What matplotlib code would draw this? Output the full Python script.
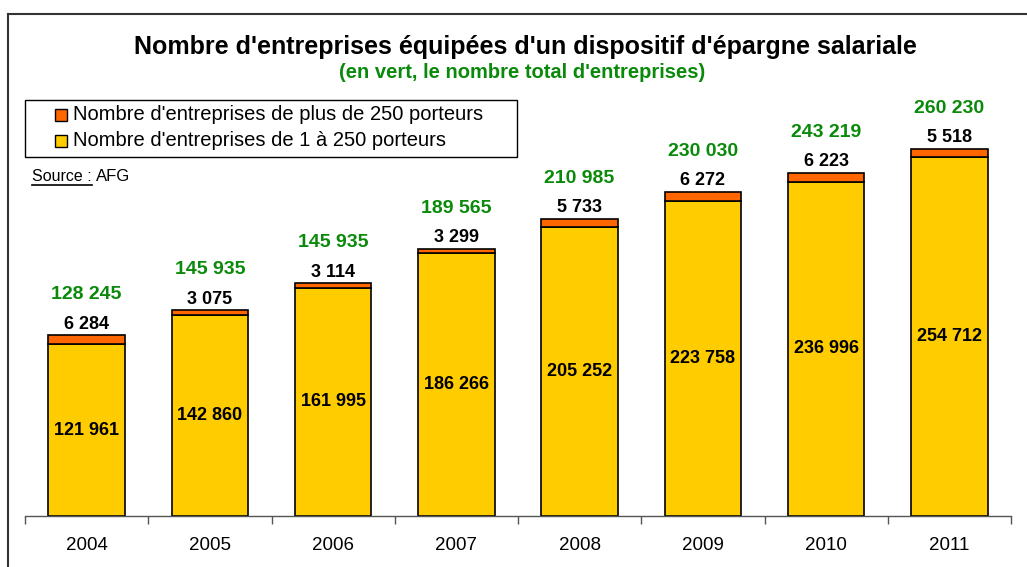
import matplotlib
matplotlib.use("Agg")
import matplotlib.pyplot as plt
from matplotlib.lines import Line2D
from matplotlib.patches import Rectangle
import numpy as np

years = ["2004", "2005", "2006", "2007", "2008", "2009", "2010", "2011"]
small = [121961, 142860, 161995, 186266, 205252, 223758, 236996, 254712]
large = [6284, 3075, 3114, 3299, 5733, 6272, 6223, 5518]
totals = ["128 245", "145 935", "145 935", "189 565", "210 985", "230 030", "243 219", "260 230"]
legend_labels = ["Nombre d'entreprises de plus de 250 porteurs",
                 "Nombre d'entreprises de 1 à 250 porteurs"]

YELLOW = "#FFCC00"
ORANGE = "#FF6600"
GREEN = "#0A8A0A"


def fmt(v):
    return f"{v:,}".replace(",", " ")


plt.rcParams["font.family"] = ["Liberation Sans", "DejaVu Sans"]

W, H = 1027, 567
fig = plt.figure(figsize=(W / 100, H / 100), dpi=100)


def px(x, y):
    # pixel coords (from top-left) -> figure fraction
    return x / W, 1 - y / H


# axes placed in pixel terms: baseline at y=516, x from 25 to 1011
ax = fig.add_axes([25 / W, 1 - 516 / H, (1011 - 25) / W, 423 / H])
x = np.arange(len(years))
small_arr = np.array(small)
large_arr = np.array(large)
ax.bar(x, small_arr, width=0.62, color=YELLOW, edgecolor="black", linewidth=1.2, zorder=2)
ax.bar(x, large_arr, width=0.62, bottom=small_arr, color=ORANGE, edgecolor="black",
       linewidth=1.2, zorder=2)

ax.set_xlim(-0.5, len(years) - 0.5)
ax.set_ylim(0, 300000)
for s in ["top", "right", "left"]:
    ax.spines[s].set_visible(False)
ax.spines["bottom"].set_color("#555555")
ax.spines["bottom"].set_linewidth(1.0)
ax.set_yticks([])
ax.set_xticks(x)
ax.set_xticklabels(years, fontsize=13.5)
ax.tick_params(axis="x", which="major", length=0, pad=15)
ax.set_xticks(np.arange(-0.5, len(years), 1.0), minor=True)
ax.tick_params(axis="x", which="minor", length=6, direction="out", color="#555555", width=1.0)

for i in range(len(years)):
    top = small[i] + large[i]
    ax.text(x[i], small[i] / 2, fmt(small[i]), ha="center", va="center",
            fontsize=13, fontweight="bold", zorder=3)
    ax.annotate(fmt(large[i]), (x[i], top), xytext=(0, 8), textcoords="offset points",
                ha="center", va="center", fontsize=13, fontweight="bold")
    ax.annotate(totals[i], (x[i], top), xytext=(0, 29), textcoords="offset points",
                ha="center", va="center", fontsize=14, fontweight="bold", color=GREEN)

# titles
fig.text(*px(525, 47), "Nombre d'entreprises équipées d'un dispositif d'épargne salariale",
         ha="center", va="center", fontsize=18, fontweight="bold")
fig.text(*px(522, 73), "(en vert, le nombre total d'entreprises)",
         ha="center", va="center", fontsize=14.5, fontweight="bold", color=GREEN)

# legend drawn by hand to match the boxed layout
x0, y0 = px(25, 157)
x1, y1 = px(517, 100)
fig.add_artist(Rectangle((x0, y0), x1 - x0, y1 - y0, transform=fig.transFigure,
                         facecolor="white", edgecolor="black", lw=1.0))
for row, (lab, col) in enumerate(zip(legend_labels, [ORANGE, YELLOW])):
    cy = 115 + row * 26
    sx, sy = px(55, cy + 6)
    fig.add_artist(Rectangle((sx, sy), 12 / W, 12 / H, transform=fig.transFigure,
                             facecolor=col, edgecolor="black", lw=1.0))
    fig.text(*px(73, cy), lab, ha="left", va="center", fontsize=14.5)

# source with underline
src = fig.text(*px(32, 177), "Source :", ha="left", va="center", fontsize=11.5)
fig.canvas.draw()
bb = src.get_window_extent()
fig.text(bb.x1 / W + 4 / W, 1 - 177 / H, "AFG", ha="left", va="center", fontsize=12)
fig.add_artist(Line2D([bb.x0 / W, bb.x1 / W], [(bb.y0 - 1) / H] * 2, color="black", lw=1.2))

# outer frame (left and top edges)
fig.add_artist(Line2D([8 / W, 8 / W], [0, 1 - 14 / H], color="#333333", lw=1.5))
fig.add_artist(Line2D([8 / W, 1], [1 - 14 / H, 1 - 14 / H], color="#333333", lw=1.5))

fig.savefig("out.png", dpi=100)
